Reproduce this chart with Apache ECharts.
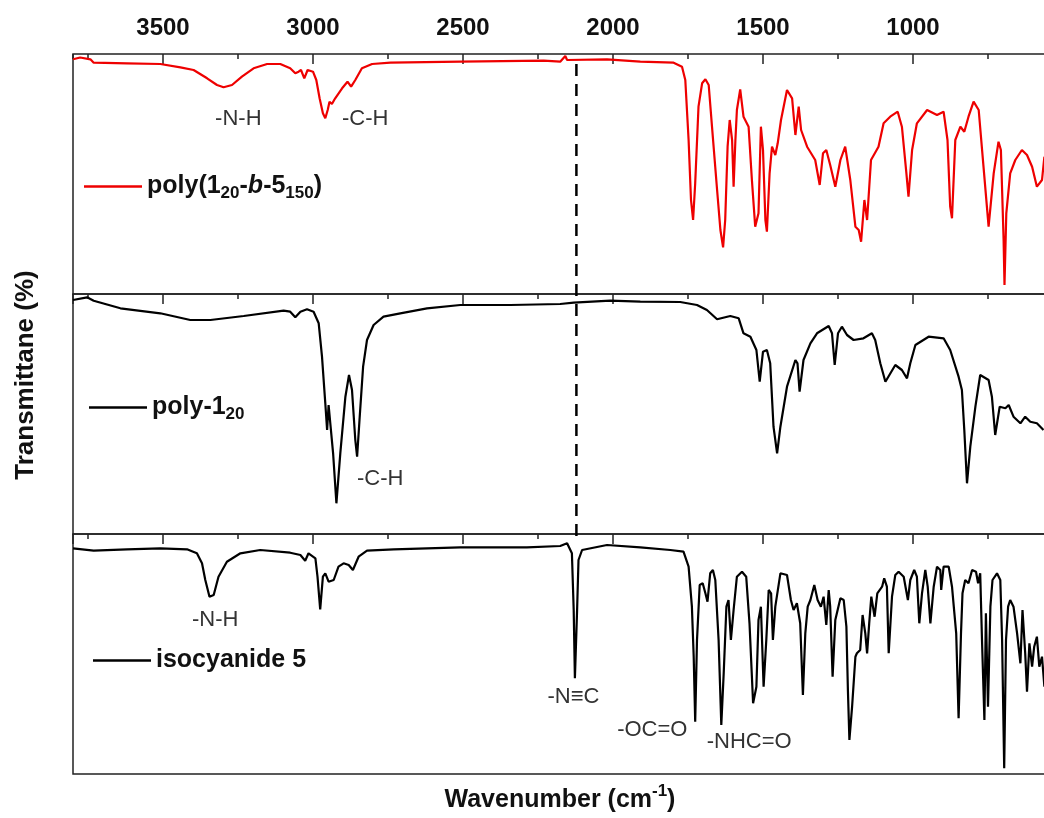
<!DOCTYPE html>
<html>
<head>
<meta charset="utf-8">
<script src="https://cdn.jsdelivr.net/npm/echarts@6/dist/echarts.min.js"></script>
<style>
html,body{margin:0;padding:0;background:#fff;}
#chart{width:1044px;height:818px;}
</style>
</head>
<body>
<div id="chart"></div>
<script>
// ---------------- DATA ----------------
// wavenumber (cm-1), transmittance (arbitrary units, panel scale 0-240)
const polyBlock = [[3800,234.7],[3776,236.5],[3742,234.7],[3731,231.3],[3620,230.7],[3509,230],[3442,226.7],[3398,224],[3353,215.7],[3320,209],[3298,206.7],[3270,209],[3237,217.3],[3198,225.7],[3153,230],[3109,230],[3076,225.7],[3059,220.7],[3048,222.3],[3040,224],[3029,215.7],[3018,224],[3000,222.3],[2989,214],[2978,195.7],[2967,180.7],[2959,175.7],[2951,184],[2945,192.3],[2937,190],[2926,195.7],[2903,205.7],[2885,212.3],[2873,207.3],[2859,214],[2837,225.7],[2803,230],[2742,231.3],[2509,232.3],[2231,233.3],[2176,232.3],[2159,238],[2153,234],[2020,234.7],[1909,232.3],[1798,231.3],[1770,227.3],[1759,214],[1748,154],[1740,94],[1733,74],[1726,110.7],[1715,187.3],[1703,210.7],[1692,214.7],[1681,209],[1670,167.3],[1653,104],[1642,64],[1633,46.7],[1626,74],[1618,147.3],[1611,174],[1603,154],[1598,107.3],[1592,154],[1587,184],[1576,204.7],[1565,177.3],[1548,167.3],[1537,114],[1526,67.3],[1515,80.7],[1507,167.3],[1500,144],[1492,74],[1487,62.3],[1478,120.7],[1470,147.3],[1459,139],[1451,150.7],[1440,174],[1420,204],[1403,195.7],[1392,159],[1381,187.3],[1373,164],[1353,147.3],[1326,134],[1311,109],[1300,140.7],[1289,144],[1276,129],[1259,107.3],[1242,134],[1226,147.3],[1209,114],[1192,67.3],[1181,64],[1173,52.3],[1162,94],[1153,74],[1140,134],[1115,147.3],[1098,170.7],[1076,177.3],[1051,182.3],[1037,167.3],[1022,120.7],[1015,97.3],[1003,144],[987,170.7],[953,184],[920,179],[898,182.3],[885,154],[876,87.3],[870,75.7],[859,154],[842,167.3],[829,162.3],[815,177.3],[798,192.3],[781,184],[765,127.3],[748,67.3],[731,120.7],[715,152.3],[707,144],[698,54],[695,9],[689,80.7],[676,120.7],[659,134],[637,144],[620,139],[603,127.3],[587,107.3],[570,114],[562,137.3]];

const poly1 = [[3800,234],[3753,236.7],[3731,233.3],[3642,225.7],[3509,220.7],[3409,214],[3342,214],[3231,218],[3098,223.3],[3076,222.3],[3059,216.7],[3042,222.3],[3020,224.7],[2998,222.3],[2981,210.7],[2970,177.3],[2959,130.7],[2953,104],[2948,129],[2942,127.3],[2933,80.7],[2922,30.7],[2909,80.7],[2892,137.3],[2880,159],[2870,144],[2859,94],[2853,77.3],[2845,114],[2833,167.3],[2820,194],[2798,209],[2765,217.3],[2709,220.7],[2620,225.7],[2509,229],[2342,229],[2176,230],[2131,231.3],[2009,233.3],[1909,232.3],[1776,232],[1720,229],[1687,224],[1653,214.7],[1609,218],[1581,215.7],[1565,200.7],[1542,197.3],[1522,184],[1511,152.3],[1500,182.3],[1487,184],[1476,170.7],[1465,107.3],[1453,80.7],[1442,107.3],[1420,147.3],[1392,174],[1385,170.7],[1378,142.3],[1365,174],[1342,190.7],[1320,200.7],[1281,208],[1270,200.7],[1261,169],[1250,200.7],[1237,207.3],[1220,199],[1198,194],[1165,195.7],[1137,200.7],[1126,194],[1109,170.7],[1092,152.3],[1059,169],[1037,164],[1020,155.7],[1009,170.7],[992,189],[948,197.3],[898,195.7],[876,184],[848,157.3],[837,144],[829,104],[820,50.7],[809,87.3],[792,127.3],[776,159],[748,154],[737,137.3],[726,99],[711,127.3],[692,125.7],[681,129],[665,117.3],[642,110.7],[626,117.3],[609,112.3],[587,110.7],[565,104]];

const isocyanide = [[3800,225.7],[3731,223.3],[3620,224.7],[3509,225.7],[3420,224.7],[3387,220.7],[3370,210.7],[3359,194],[3345,177.3],[3331,179],[3315,197.3],[3287,212.3],[3242,220.7],[3176,224],[3076,221.3],[3042,219],[3026,213.3],[3015,220.7],[2992,215.7],[2985,197.3],[2976,164.7],[2967,197.3],[2959,200.7],[2948,192.3],[2931,194],[2915,207.3],[2898,210.7],[2881,209],[2867,204],[2848,217.3],[2820,223.3],[2731,224.7],[2509,226.7],[2287,226.7],[2176,228],[2153,230.7],[2137,220.7],[2131,164],[2127,95.7],[2120,160.7],[2115,214],[2103,224],[2020,229],[1909,226.7],[1809,224],[1765,222.3],[1748,207.3],[1737,167.3],[1731,117.3],[1726,52.3],[1720,134],[1711,189],[1701,190.7],[1692,180.7],[1685,172.3],[1676,200.7],[1667,204],[1659,194],[1648,134],[1639,49],[1631,100.7],[1622,167.3],[1615,174],[1607,134],[1598,164],[1587,197.3],[1570,202.3],[1556,197.3],[1545,150.7],[1533,70.7],[1522,87.3],[1515,154],[1507,167.3],[1498,87.3],[1489,134],[1481,184],[1473,180.7],[1467,134],[1459,167.3],[1442,200.7],[1420,199],[1407,174],[1398,164],[1387,170.7],[1376,150.7],[1367,79],[1359,140.7],[1351,167.3],[1342,174],[1329,189],[1318,174],[1307,167.3],[1298,177.3],[1289,149],[1281,184],[1276,167.3],[1268,97.3],[1259,154],[1242,175.7],[1231,174],[1222,147.3],[1217,84],[1212,34],[1203,67.3],[1192,117.3],[1187,120.7],[1176,124],[1168,159],[1159,140.7],[1153,120.7],[1146,150.7],[1139,177.3],[1128,157.3],[1119,180.7],[1103,187.3],[1096,195.7],[1087,187.3],[1081,120.7],[1070,177.3],[1059,199],[1048,202.3],[1031,197.3],[1017,174],[1009,194],[996,204],[987,197.3],[979,150.7],[970,180.7],[959,204],[951,187.3],[942,150.7],[931,187.3],[920,207.3],[909,204],[906,184],[898,207.3],[881,207.3],[870,187.3],[862,160.7],[856,140.7],[848,55.7],[840,140.7],[835,180.7],[826,194],[815,190.7],[803,204],[790,202.3],[783,190.7],[776,200.7],[770,134],[762,54],[757,160.7],[750,67.3],[742,167.3],[735,194],[720,200.7],[709,194],[703,134],[696,5.7],[690,134],[683,167.3],[676,174],[665,167.3],[653,140.7],[642,110.7],[635,164],[626,120.7],[620,82.3],[612,130.7],[603,107.3],[596,127.3],[587,137.3],[579,107.3],[570,117.3],[562,87.3]];

// dashed marker at the isocyanide N≡C band (overlay scale 0-720 spanning all three panels)
const nccMarker = [[2122,710],[2122,232]];

// tick labels (top axis)
const tickLabels = [3500, 3000, 2500, 2000, 1500, 1000];

// peak annotations [text, wavenumber, transmittance]
const annotTop = [['-N-H',3249,175],['-C-H',2826,175]];
const annotMid = [['-C-H',2776,55]];
const annotBot = [['-N-H',3326,154],['-N\u2261C',2132,77],['-OC=O',1869,44],['-NHC=O',1546,32]];

const seriesNames = ['poly(1_20-b-5_150)', 'poly-1_20', 'isocyanide 5'];
const legendRich = {
  'poly(1_20-b-5_150)': '{b|poly(1}{s|20}{b|-}{i|b}{b|-5}{s|150}{b|)}',
  'poly-1_20': '{b|poly-1}{s|20}',
  'isocyanide 5': '{b|isocyanide 5}'
};

// ---------------- CHART ----------------
const FONT = "Arial, 'Liberation Sans', Helvetica, sans-serif";
const chart = echarts.init(document.getElementById('chart'), null, {renderer: 'canvas'});

const L = 73, W = 990;
function grid(top, height, border) {
  const g = {left: L, width: W, top: top, height: height, show: border, outerBoundsMode: 'none', containLabel: false};
  if (border) { g.borderColor = '#222'; g.borderWidth = 1.5; g.backgroundColor = 'transparent'; }
  return g;
}
const grids = [grid(54, 720, false), grid(54, 240, true), grid(294, 240, true), grid(534, 240, true)];

function xAx(g, pos, interval, tickLen, inside, labels) {
  return {
    type: 'value', gridIndex: g, position: pos, min: 500, max: 3800, interval: interval, inverse: true,
    axisLine: {show: false, onZero: false}, splitLine: {show: false},
    axisTick: {show: true, inside: inside, length: tickLen, lineStyle: {color: '#222', width: 1.5}},
    axisLabel: labels ? {
      show: true, margin: 14, color: '#111', fontSize: 24, fontWeight: 'bold', fontFamily: FONT,
      showMinLabel: false, showMaxLabel: false,
      formatter: v => tickLabels.indexOf(v) >= 0 ? String(v) : ''
    } : {show: false}
  };
}

const xAxes = [
  xAx(0, 'top', 500, 10, true, true),
  xAx(1, 'top', 250, 5, true, false),
  xAx(1, 'bottom', 500, 10, false, false),
  xAx(2, 'top', 250, 5, true, false),
  xAx(2, 'bottom', 500, 10, false, false),
  xAx(3, 'top', 250, 5, true, false)
];
const yAxes = [
  {type: 'value', gridIndex: 0, min: 0, max: 720, show: false},
  {type: 'value', gridIndex: 1, min: 0, max: 240, show: false},
  {type: 'value', gridIndex: 2, min: 0, max: 240, show: false},
  {type: 'value', gridIndex: 3, min: 0, max: 240, show: false}
];

function marks(list) {
  return {
    symbol: 'circle', symbolSize: 0, silent: true, animation: false,
    label: {show: true, position: 'inside', formatter: p => p.name, color: '#333', fontSize: 22, fontFamily: FONT},
    data: list.map(a => ({name: a[0], coord: [a[1], a[2]]}))
  };
}

function spec(name, data, xi, yi, color, ann) {
  return {
    name: name, type: 'line', xAxisIndex: xi, yAxisIndex: yi, data: data,
    symbol: 'none', showSymbol: false, animation: false, silent: true,
    lineStyle: {color: color, width: 2.2}, itemStyle: {color: color},
    markPoint: marks(ann), z: 3
  };
}

const rich = {
  b: {fontSize: 25, fontWeight: 'bold', color: '#111', fontFamily: FONT, lineHeight: 30},
  i: {fontSize: 25, fontWeight: 'bold', fontStyle: 'italic', color: '#111', fontFamily: FONT, lineHeight: 30},
  s: {fontSize: 17, fontWeight: 'bold', color: '#111', fontFamily: FONT, lineHeight: 17, verticalAlign: 'bottom'}
};
function legend(name, left, top) {
  return {
    data: [{name: name, icon: 'rect'}], left: left, top: top, orient: 'horizontal', padding: 0,
    itemWidth: 58, itemHeight: 2.5, selectedMode: false,
    formatter: n => legendRich[n],
    textStyle: {rich: rich, fontSize: 25, fontWeight: 'bold', color: '#111', fontFamily: FONT}
  };
}

chart.setOption({
  animation: false,
  backgroundColor: '#fff',
  grid: grids,
  xAxis: xAxes,
  yAxis: yAxes,
  legend: [
    legend(seriesNames[0], 84, 174),
    legend(seriesNames[1], 89, 395),
    legend(seriesNames[2], 93, 648)
  ],
  series: [
    spec(seriesNames[0], polyBlock, 1, 1, '#ee0000', annotTop),
    spec(seriesNames[1], poly1, 3, 2, '#000000', annotMid),
    spec(seriesNames[2], isocyanide, 5, 3, '#000000', annotBot),
    {
      name: 'marker', type: 'line', xAxisIndex: 0, yAxisIndex: 0, data: nccMarker,
      symbol: 'none', animation: false, silent: true, z: 4,
      lineStyle: {color: '#000', width: 2.5, type: [12, 8]}
    }
  ],
  graphic: [
    {
      type: 'text', x: 26, y: 375, rotation: Math.PI / 2,
      style: {text: 'Transmittane (%)', font: 'bold 26px ' + FONT, fill: '#111', align: 'center', verticalAlign: 'middle'}
    },
    {
      type: 'text', x: 560, y: 800,
      style: {
        text: '{a|Wavenumber (cm}{s|-1}{a|)}', align: 'center', verticalAlign: 'middle',
        rich: {
          a: {font: 'bold 25px ' + FONT, fill: '#111', lineHeight: 34},
          s: {font: 'bold 17px ' + FONT, fill: '#111', lineHeight: 17, verticalAlign: 'top'}
        }
      }
    }
  ]
});
</script>
</body>
</html>
